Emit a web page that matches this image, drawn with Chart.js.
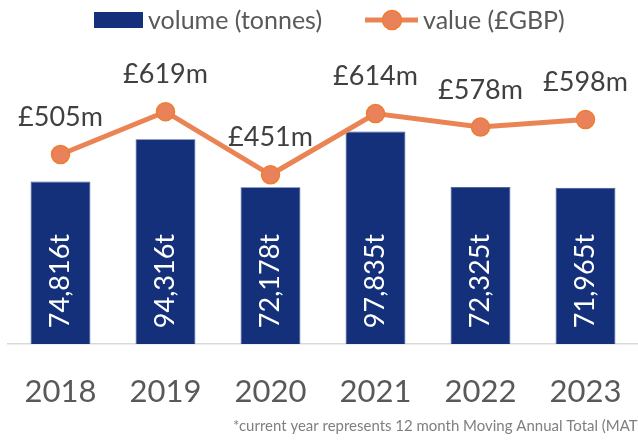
<!DOCTYPE html>
<html>
<head>
<meta charset="utf-8">
<script src="https://cdn.jsdelivr.net/npm/chart.js@4"></script>
<style>
  body { margin: 0; background: #fff; }
  #wrap { width: 638px; height: 443px; position: relative; }
</style>
</head>
<body>
<div id="wrap"><canvas id="chart"></canvas></div>
<script>
// Data
const years = ["2018", "2019", "2020", "2021", "2022", "2023"];
const volumeTonnes = [74816, 94316, 72178, 97835, 72325, 71965];
const valueGBPm = [505, 619, 451, 614, 578, 598];
const legendNames = ["volume (tonnes)", "value (£GBP)"];
const footnote = "*current year represents 12 month Moving Annual Total (MAT)";

const navy = "#14307a";
const orange = "#eb8455";
const FONT = "Lato, 'Open Sans', sans-serif";

// labels, legend and footnote drawn on the canvas
const extras = {
  id: "extras",
  afterDatasetsDraw(chart) {
    const ctx = chart.ctx;
    ctx.save();
    // bar labels, rotated, white
    const bars = chart.getDatasetMeta(1);
    ctx.fillStyle = "#ffffff";
    ctx.font = "27px " + FONT;
    ctx.textAlign = "center";
    ctx.textBaseline = "middle";
    bars.data.forEach((bar, i) => {
      ctx.save();
      ctx.translate(bar.x, bar.base - 63);
      ctx.rotate(-Math.PI / 2);
      ctx.fillText(volumeTonnes[i].toLocaleString("en-GB") + "t", 0, 0);
      ctx.restore();
    });
    // line labels above points
    const pts = chart.getDatasetMeta(0);
    ctx.fillStyle = "#404040";
    pts.data.forEach((p, i) => {
      ctx.fillText("£" + valueGBPm[i] + "m", p.x, p.y - 37);
    });
    ctx.restore();
  },
  afterDraw(chart) {
    const ctx = chart.ctx;
    ctx.save();
    // legend
    ctx.fillStyle = navy;
    ctx.fillRect(94, 12, 49, 16);
    ctx.strokeStyle = orange;
    ctx.lineWidth = 5;
    ctx.beginPath();
    ctx.moveTo(365, 20);
    ctx.lineTo(418, 20);
    ctx.stroke();
    ctx.beginPath();
    ctx.arc(392, 20, 9.5, 0, Math.PI * 2);
    ctx.fillStyle = "#e9825a";
    ctx.fill();
    ctx.lineWidth = 1.5;
    ctx.strokeStyle = "#ee7d31";
    ctx.stroke();
    ctx.fillStyle = "#595959";
    ctx.font = "25px " + FONT;
    ctx.textBaseline = "middle";
    ctx.textAlign = "left";
    ctx.fillText(legendNames[0], 148, 21);
    ctx.fillText(legendNames[1], 423, 21);
    // footnote, fitted so "(MAT" ends at the right edge
    ctx.font = "15px " + FONT;
    const visible = footnote.slice(0, -1);
    const size = 15 * 405 / ctx.measureText(visible).width;
    ctx.font = size.toFixed(2) + "px " + FONT;
    ctx.fillStyle = "#7f7f7f";
    ctx.textBaseline = "alphabetic";
    ctx.fillText(footnote, 233, 431);
    ctx.restore();
  }
};

new Chart(document.getElementById("chart"), {
  type: "bar",
  data: {
    labels: years,
    datasets: [
      {
        type: "line",
        label: legendNames[1],
        data: valueGBPm,
        yAxisID: "y2",
        borderColor: orange,
        borderWidth: 5,
        pointRadius: 9,
        pointBackgroundColor: "#e9825a",
        pointBorderColor: "#ee7d31",
        pointBorderWidth: 1.5,
        tension: 0,
        order: 0
      },
      {
        type: "bar",
        label: legendNames[0],
        data: volumeTonnes,
        yAxisID: "y",
        backgroundColor: navy,
        borderColor: "#3d5396",
        borderWidth: 0.8,
        barPercentage: 0.57,
        categoryPercentage: 1,
        order: 1
      }
    ]
  },
  options: {
    responsive: true,
    maintainAspectRatio: false,
    animation: false,
    layout: { autoPadding: false, padding: { left: 8, right: -2.5, top: 40, bottom: 11 } },
    plugins: {
      legend: { display: false },
      tooltip: { enabled: false }
    },
    scales: {
      x: {
        grid: { display: false },
        border: { display: true, color: "#d9d9d9", width: 1.5 },
        ticks: {
          color: "#595959",
          font: { family: FONT, size: 31, lineHeight: 2.32 },
          padding: 4,
          maxRotation: 0
        },
        afterFit(scale) {
          scale.paddingLeft = 0;
          scale.paddingRight = 0;
        }
      },
      y: { display: false, min: 0, max: 140000 },
      y2: { display: false, min: 0, max: 810 }
    }
  },
  plugins: [extras]
});
</script>
</body>
</html>
